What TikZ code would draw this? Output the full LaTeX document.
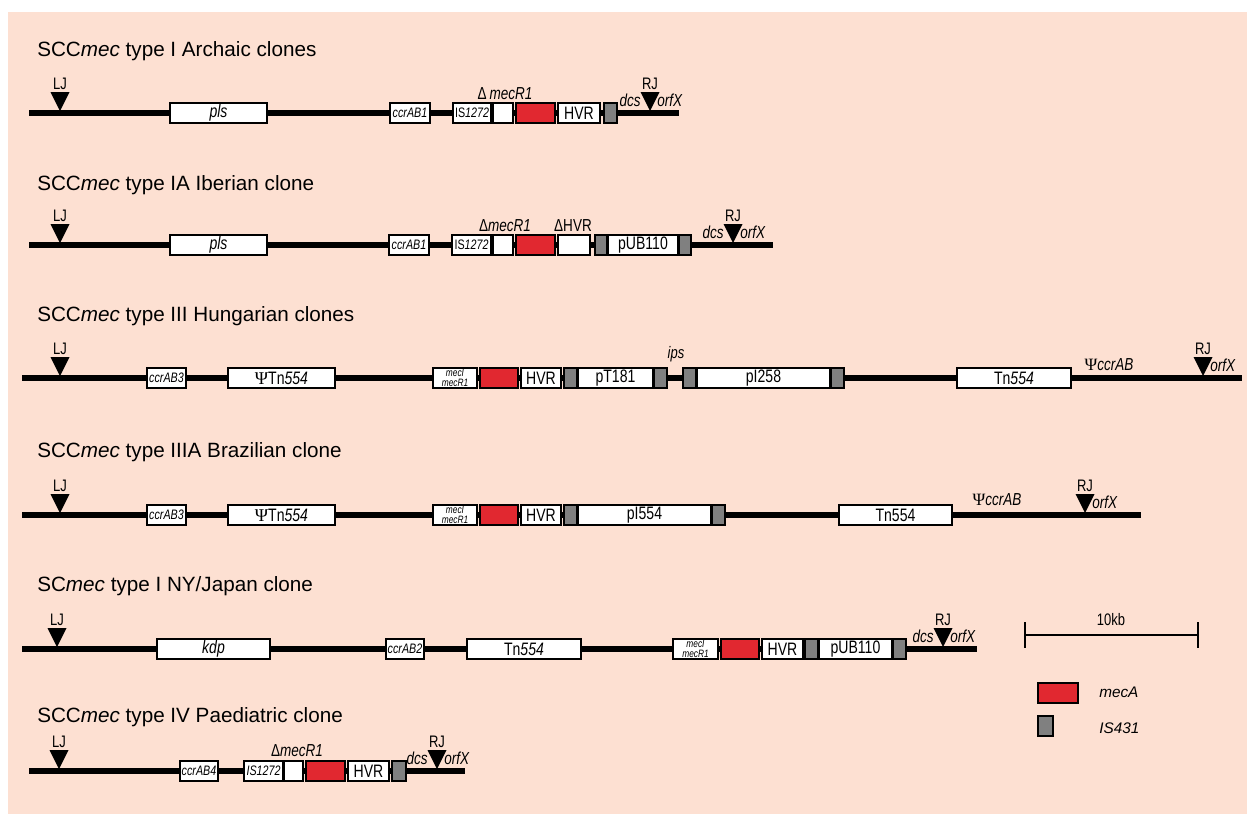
\documentclass[tikz,border=0pt]{standalone}
\usepackage{fontspec}
\setmainfont{Liberation Sans}
\newfontfamily\nar[FakeStretch=0.78]{Liberation Sans}
\newfontfamily\grk{Liberation Serif}
\definecolor{peach}{RGB}{253,224,210}
\definecolor{mecred}{RGB}{225,40,48}
\definecolor{isgray}{RGB}{128,128,128}

\tikzset{
  backbone/.style={line width=5pt},
  gene/.style={draw=black, line width=1pt, fill=white, inner sep=0pt,
    minimum height=15pt, font=\nar\fontsize{13.5}{13.5}\selectfont},
  ccr/.style={gene, font=\nar\itshape\fontsize{10.3}{10.3}\selectfont},
  isbox/.style={gene, font=\nar\fontsize{10.3}{10.3}\selectfont},
  mecbox/.style={gene, align=center, font=\nar\itshape\fontsize{8}{7}\selectfont},
  meca/.style={gene, fill=mecred},
  isel/.style={gene, fill=isgray},
  rowtitle/.style={anchor=base west, inner sep=0pt, font=\fontsize{15.5}{16}\selectfont},
  jlab/.style={anchor=base, inner sep=0pt, font=\nar\fontsize{12.5}{12.5}\selectfont},
  flank/.style={inner sep=0pt, font=\nar\itshape\fontsize{13}{13}\selectfont},
  genelabel/.style={anchor=base, inner sep=0pt, font=\nar\fontsize{13}{13}\selectfont},
  legtext/.style={anchor=base west, inner sep=0pt, font=\itshape\fontsize{11.5}{11.5}\selectfont},
}

% gene box: name, left x, right x, line y, style, text
\newcommand\gbox[6]{\node[#5, minimum width={(#3-#2)*0.75pt}] (#1) at ({(#2+#3)/2},#4) {#6};}
% junction triangle with its label: name, x, line y, label
\newcommand\junc[4]{%
  \coordinate (#1) at (#2,#3);
  \fill (#1) ++(-9.5,-21) -- ++(19,0) -- (#2,{#3-2}) -- cycle;
  \node[jlab] (#1t) at (#2,{#3-24}) {#4};}
\newcommand\dcslab[3]{\node[flank, anchor=base east] (#1) at ({#2-9},{#3-7}) {dcs};}
\newcommand\orflab[3]{\node[flank, anchor=base west] (#1) at ({#2+7},{#3-7}) {orfX};}
\newcommand\Tn{Tn\textit{554}}
\newcommand\Psig{{\grk\char"03A8}}

\begin{document}
\begin{tikzpicture}[x=0.75pt,y=-0.75pt]
\useasboundingbox (0,0) rectangle (1247,814);
\fill[peach] (8,12) rectangle (1247,814);

% ---- SCCmec type I, archaic clones
\node[rowtitle] (t1) at (37,56) {SCC\textit{mec} type I Archaic clones};
\coordinate (a0) at (29,113); \coordinate (a9) at (679,113);
\draw[backbone] (a0) -- (a9);
\junc{aL}{60}{113}{LJ}
\gbox{apls}{170}{267}{113}{gene}{\itshape pls}
\gbox{accr}{390}{430}{113}{ccr}{ccrAB1}
\gbox{ais}{453}{491}{113}{isbox}{IS\textit{1272}}
\gbox{amr}{493}{513}{113}{gene}{}
\gbox{amec}{516}{555}{113}{meca}{}
\gbox{ahvr}{558}{600}{113}{gene}{HVR}
\gbox{ais1}{604}{617}{113}{isel}{}
\junc{aR}{650}{113}{RJ}
\dcslab{adcs}{650}{113}
\orflab{aorf}{650}{113}
\node[genelabel] (adm) at (505,99) {Δ\,\textit{mecR1}};

% ---- SCCmec type IA, Iberian clone
\node[rowtitle] (t2) at (37,190) {SCC\textit{mec} type IA Iberian clone};
\coordinate (b0) at (29,245); \coordinate (b9) at (773,245);
\draw[backbone] (b0) -- (b9);
\junc{bL}{60}{245}{LJ}
\gbox{bpls}{170}{267}{245}{gene}{\itshape pls}
\gbox{bccr}{389}{429}{245}{ccr}{ccrAB1}
\gbox{bis}{452}{491}{245}{isbox}{IS\textit{1272}}
\gbox{bmr}{493}{513}{245}{gene}{}
\gbox{bmec}{516}{555}{245}{meca}{}
\gbox{bhvr}{558}{590}{245}{gene}{}
\gbox{bis1}{595}{607}{245}{isel}{}
\gbox{bpub}{608}{678}{245}{gene}{pUB110}
\gbox{bis2}{679}{691}{245}{isel}{}
\junc{bR}{733}{245}{RJ}
\dcslab{bdcs}{733}{245}
\orflab{borf}{733}{245}
\node[genelabel] (bdm) at (505,231) {Δ\textit{mecR1}};
\node[genelabel] (bdh) at (573,231) {ΔHVR};

% ---- SCCmec type III, Hungarian clones
\node[rowtitle] (t3) at (37,321) {SCC\textit{mec} type III Hungarian clones};
\coordinate (c0) at (22,378); \coordinate (c9) at (1242,378);
\draw[backbone] (c0) -- (c9);
\junc{cL}{60}{378}{LJ}
\gbox{cccr}{147}{186}{378}{ccr}{ccrAB3}
\gbox{ctn1}{228}{335}{378}{gene}{\Psig\Tn}
\gbox{cmi}{433}{477}{378}{mecbox}{mecI\\mecR1}
\gbox{cmec}{480}{518}{378}{meca}{}
\gbox{chvr}{521}{561}{378}{gene}{HVR}
\gbox{cis1}{564}{577}{378}{isel}{}
\gbox{cpt}{578}{653}{378}{gene}{pT181}
\gbox{cis2}{654}{667}{378}{isel}{}
\gbox{cis3}{683}{696}{378}{isel}{}
\gbox{cpi}{697}{830}{378}{gene}{pI258}
\gbox{cis4}{831}{844}{378}{isel}{}
\gbox{ctn2}{957}{1071}{378}{gene}{\Tn}
\node[genelabel, font=\nar\itshape\fontsize{12.5}{12.5}\selectfont] (cips) at (676,358) {ips};
\node[genelabel] (cpc) at (1109,370) {\Psig\textit{ccrAB}};
\junc{cR}{1203}{378}{RJ}
\orflab{corf}{1203}{378}

% ---- SCCmec type IIIA, Brazilian clone
\node[rowtitle] (t4) at (37,457) {SCC\textit{mec} type IIIA Brazilian clone};
\coordinate (d0) at (22,515); \coordinate (d9) at (1141,515);
\draw[backbone] (d0) -- (d9);
\junc{dL}{60}{515}{LJ}
\gbox{dccr}{147}{186}{515}{ccr}{ccrAB3}
\gbox{dtn1}{228}{335}{515}{gene}{\Psig\Tn}
\gbox{dmi}{433}{477}{515}{mecbox}{mecI\\mecR1}
\gbox{dmec}{480}{518}{515}{meca}{}
\gbox{dhvr}{521}{561}{515}{gene}{HVR}
\gbox{dis1}{564}{577}{515}{isel}{}
\gbox{dpi}{578}{711}{515}{gene}{pI554}
\gbox{dis2}{712}{725}{515}{isel}{}
\gbox{dtn2}{839}{952}{515}{gene}{Tn554}
\node[genelabel] (dpc) at (997,505) {\Psig\textit{ccrAB}};
\junc{dR}{1085}{515}{RJ}
\orflab{dorf}{1085}{515}

% ---- SCmec type I, NY/Japan clone
\node[rowtitle] (t5) at (37,591) {SC\textit{mec} type I NY/Japan clone};
\coordinate (e0) at (22,649); \coordinate (e9) at (977,649);
\draw[backbone] (e0) -- (e9);
\junc{eL}{57}{649}{LJ}
\gbox{ekdp}{157}{270}{649}{gene}{\itshape kdp}
\gbox{eccr}{386}{424}{649}{ccr}{ccrAB2}
\gbox{etn}{467}{581}{649}{gene}{\Tn}
\gbox{emi}{673}{718}{649}{mecbox}{mecI\\mecR1}
\gbox{emec}{721}{759}{649}{meca}{}
\gbox{ehvr}{762}{803}{649}{gene}{HVR}
\gbox{eis1}{805}{818}{649}{isel}{}
\gbox{epub}{819}{892}{649}{gene}{pUB110}
\gbox{eis2}{893}{906}{649}{isel}{}
\junc{eR}{943}{649}{RJ}
\dcslab{edcs}{943}{649}
\orflab{eorf}{943}{649}

% ---- SCCmec type IV, paediatric clone
\node[rowtitle] (t6) at (37,722) {SCC\textit{mec} type IV Paediatric clone};
\coordinate (f0) at (29,771); \coordinate (f9) at (465,771);
\draw[backbone] (f0) -- (f9);
\junc{fL}{59}{771}{LJ}
\gbox{fccr}{180}{218}{771}{ccr}{ccrAB4}
\gbox{fis}{244}{283}{771}{ccr}{IS1272}
\gbox{fmr}{284}{303}{771}{gene}{}
\gbox{fmec}{306}{345}{771}{meca}{}
\gbox{fhvr}{348}{389}{771}{gene}{HVR}
\gbox{fis1}{392}{406}{771}{isel}{}
\junc{fR}{437}{771}{RJ}
\dcslab{fdcs}{437}{771}
\orflab{forf}{437}{771}
\node[genelabel] (fdm) at (297,756) {Δ\textit{mecR1}};

% ---- scale bar
\coordinate (sb1) at (1025,635); \coordinate (sb2) at (1198,635);
\draw[line width=1.1pt] (sb1) -- (sb2);
\draw[line width=1.1pt] (sb1) ++(0,-13) -- ++(0,26);
\draw[line width=1.1pt] (sb2) ++(0,-13) -- ++(0,26);
\node[jlab] (sbt) at (1111,625) {10kb};

% ---- legend
\gbox{lgA}{1038}{1078}{693}{meca}{}
\node[legtext] (lgAt) at (1099,697) {mecA};
\gbox{lgI}{1038}{1053}{726}{isel}{}
\node[legtext] (lgIt) at (1099,733) {IS431};
\end{tikzpicture}
\end{document}
